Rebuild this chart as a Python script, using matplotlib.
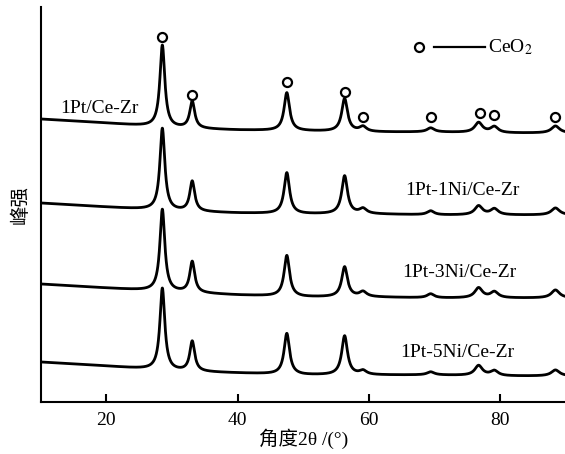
import numpy as np
import matplotlib
matplotlib.use("Agg")
import matplotlib.pyplot as plt

plt.rcParams['font.family'] = ['Liberation Serif', 'Noto Sans CJK SC', 'DejaVu Sans']
plt.rcParams['mathtext.fontset'] = 'stix'

# ---- data (intensity in arbitrary units) ----
labels = ["1Pt/Ce-Zr", "1Pt-1Ni/Ce-Zr", "1Pt-3Ni/Ce-Zr", "1Pt-5Ni/Ce-Zr"]
peak_pos = [28.55, 33.1, 47.5, 56.3, 59.1, 69.4, 76.7, 79.1, 88.4]
peak_fwhm = [0.9, 0.9, 1.0, 1.05, 1.3, 1.3, 1.4, 1.4, 1.5]
heights = [
    [82, 27, 38, 33, 5, 4, 10, 6, 7],
    [82, 30, 41, 38, 5, 4, 9, 6, 7],
    [82, 31, 41, 30, 5, 4, 10, 6, 8],
    [82, 30, 41, 39, 4, 3, 10, 5, 6],
]
base_x = [10, 20, 30, 40, 50, 60, 70, 80, 90]
baselines = [
    [283, 279, 274, 272, 271, 270, 270, 269, 269],
    [199, 195, 191, 189, 188, 188, 187, 187, 187],
    [118, 114, 110, 107, 105, 105, 104, 104, 104],
    [40, 36, 31, 29, 27, 27, 27, 26, 26],
]
marker_x = [28.55, 33.1, 47.5, 56.3, 59.1, 69.4, 76.9, 79.1, 88.4]
marker_y = [365, 307, 320, 310, 285, 285, 289, 287, 285]
label_x = [13.0, 65.6, 65.0, 64.7]
label_y = [294, 212, 130, 50]

x = np.linspace(10, 90, 4000)

fig = plt.figure(figsize=(5.65, 4.54), dpi=100)
ax = fig.add_axes([0.0717, 0.1145, 0.93, 0.87])

for i in range(4):
    y = np.interp(x, base_x, baselines[i])
    for c, w, h in zip(peak_pos, peak_fwhm, heights[i]):
        g = (w / 2) ** 2
        y = y + h * g / ((x - c) ** 2 + g)
    ax.plot(x, y, color='black', lw=2.0)
    ax.text(label_x[i], label_y[i], labels[i], fontsize=14, ha='left', va='center')

ax.plot(marker_x, marker_y, 'o', ls='none', mfc='white', mec='black', ms=6.5, mew=1.6)

# legend-like annotation
ax.plot([67.6], [355], 'o', mfc='white', mec='black', ms=6.5, mew=1.6)
ax.plot([69.9, 77.7], [355, 355], color='black', lw=1.6)
ax.text(78.2, 355, "CeO$_2$", fontsize=14, ha='left', va='center')

ax.set_xlim(10, 90)
ax.set_ylim(0, 395)
ax.set_xticks([20, 40, 60, 80])
ax.set_yticks([])
ax.tick_params(axis='x', direction='in', length=6, width=1.5, labelsize=14, pad=7)
for s in ['top', 'right']:
    ax.spines[s].set_visible(False)
for s in ['left', 'bottom']:
    ax.spines[s].set_linewidth(1.5)

ax.set_xlabel("角度2θ /(°)", fontsize=14, labelpad=0)
ax.set_ylabel("峰强", fontsize=14, labelpad=8)

fig.savefig("out.png", dpi=100)
